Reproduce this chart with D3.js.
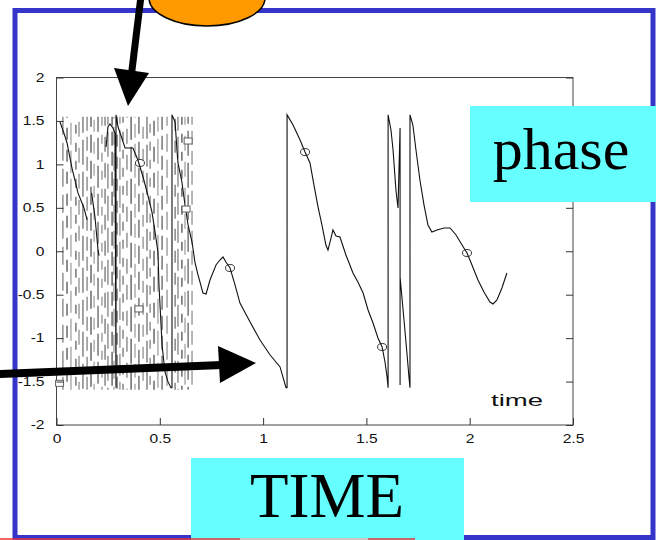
<!DOCTYPE html>
<html><head><meta charset="utf-8">
<script src="https://cdn.jsdelivr.net/npm/d3@7"></script>
<style>
html,body{margin:0;padding:0;background:#fff;}
svg{display:block;}
</style></head><body>
<svg id="chart" width="656" height="540"></svg>
<script>
// ---------- data ----------
const xTicks = [0, 0.5, 1, 1.5, 2, 2.5];
const yTicks = [-2, -1.5, -1, -0.5, 0, 0.5, 1, 1.5, 2];
const xLabel = "time";
const phaseLabel = "phase";
const timeLabel = "TIME";

// main wrapped phase curve [time, phase]; null = break in the trace
const phaseTime = [0.017,0.036,0.051,0.075,0.104,0.133,0.148,0.160,0.170,0.186,0.201,0.206,0.220,0.240,0.249,0.259,0.273,0.283,0.288,0.288,0.298,0.332,0.370,0.394,0.419,0.438,0.462,0.477,0.491,0.496,0.501,0.511,0.525,0.540,0.554,0.559,0.559,0.574,0.583,0.588,0.607,0.622,0.637,0.656,0.670,0.685,0.709,0.724,0.743,0.772,0.791,0.806,0.820,0.840,0.864,0.888,0.937,0.985,1.034,1.082,1.111,1.116,1.116,1.145,1.179,1.203,1.227,1.246,1.266,1.285,1.304,1.314,1.329,1.338,1.353,1.372,1.401,1.435,1.459,1.484,1.508,1.532,1.556,1.576,1.590,1.600,1.605,1.605,1.619,1.629,1.643,1.653,1.663,1.663,1.663,1.682,1.697,1.706,1.711,1.711,1.725,1.740,1.759,1.779,1.798,1.817,1.842,1.876,1.905,1.934,1.963,1.987,2.011,2.040,2.069,2.098,2.113,2.132,2.156,2.180];
const phaseValue = [1.488,1.36,1.246,0.958,0.671,0.498,0.360,null,0.671,0.40,0.014,-0.05,null,1.20,1.430,1.465,1.419,1.361,-1.57,1.57,1.430,1.188,1.188,1.050,0.855,0.682,0.452,0.222,-0.009,-0.388,-0.619,-1.079,-1.390,-1.504,-1.57,-1.57,1.57,1.488,1.165,1.016,0.797,0.532,0.302,0.106,-0.124,-0.273,-0.481,-0.492,-0.331,-0.158,-0.101,-0.066,-0.124,-0.193,-0.388,-0.596,-0.814,-1.022,-1.194,-1.332,-1.57,-1.57,1.57,1.453,1.281,1.142,1.016,0.763,0.509,0.302,0.072,0.014,0.153,0.245,0.175,0.164,-0.043,-0.250,-0.354,-0.481,-0.676,-0.826,-0.998,-1.102,-1.275,-1.447,-1.57,1.57,1.396,1.165,0.705,0.498,1.419,-1.539,-0.296,-0.791,-1.194,-1.447,-1.57,1.57,1.453,1.165,0.820,0.532,0.302,0.222,0.245,0.268,0.268,0.187,0.072,-0.020,-0.158,-0.331,-0.469,-0.584,-0.607,-0.561,-0.423,-0.250];

// fast wraps in the early, noisy part (dashed verticals)
const wrapTimes = [0.031,0.051,0.070,0.094,0.109,0.128,0.148,0.167,0.182,0.201,0.220,0.235,0.249,0.269,0.278,0.293,0.307,0.322,0.341,0.361,0.380,0.399,0.419,0.438,0.453,0.472,0.491,0.511,0.535,0.574,0.588,0.607,0.622,0.637,0.656];
const wrapLow = -1.57, wrapHigh = 1.57;

// markers
const circleTime = [0.404, 0.840, 1.203, 1.576, 1.987];
const circleValue = [1.016, -0.193, 1.142, -1.102, -0.020];
const squareTime = [0.637, 0.627, 0.399, 0.015];
const squareValue = [1.269, 0.486, -0.664, -1.52];

// ---------- drawing ----------
const svg = d3.select("#chart");
const W = 656, H = 540;
const x = d3.scaleLinear().domain([0, 2.5]).range([56.5, 573]);
const y = d3.scaleLinear().domain([-2, 2]).range([425, 77.5]);

svg.append("rect").attr("width", W).attr("height", H).attr("fill", "#fff");

// blue slide frame
svg.append("rect").attr("x", 15).attr("y", 10.5).attr("width", 638).attr("height", 527)
  .attr("fill", "none").attr("stroke", "#3535c9").attr("stroke-width", 5);

// plot frame
svg.append("rect").attr("x", x(0)).attr("y", y(2)).attr("width", x(2.5) - x(0)).attr("height", y(-2) - y(2))
  .attr("fill", "#fff").attr("stroke", "#444").attr("stroke-width", 1);

// dashed wrap lines
const dashPats = ["18,8", "12,10", "22,6", "9,9", "15,11", "25,7", "14,6"];
const dashCols = ["#777", "#444", "#999", "#555", "#888", "#666"];
svg.append("g").selectAll("line").data(wrapTimes).join("line")
  .attr("x1", d => x(d)).attr("x2", d => x(d))
  .attr("y1", y(wrapHigh) + 2).attr("y2", y(wrapLow) + 2)
  .attr("stroke", (d, i) => dashCols[i % dashCols.length])
  .attr("stroke-width", 1.2)
  .attr("stroke-dasharray", (d, i) => dashPats[i % dashPats.length])
  .attr("stroke-dashoffset", (d, i) => (i * 11) % 23);

// main curve
const pts = phaseTime.map((t, i) => [t, phaseValue[i]]);
svg.append("path").datum(pts)
  .attr("d", d3.line().defined(d => d[1] != null).x(d => x(d[0])).y(d => y(d[1])))
  .attr("fill", "none").attr("stroke", "#111").attr("stroke-width", 1.1);

// markers
svg.append("g").selectAll("rect").data(squareTime).join("rect")
  .attr("x", d => x(d) - 4).attr("y", (d, i) => y(squareValue[i]) - 3)
  .attr("width", 8).attr("height", 6).attr("fill", "#fff").attr("stroke", "#555").attr("stroke-width", 0.9);
svg.append("g").selectAll("ellipse").data(circleTime).join("ellipse")
  .attr("cx", d => x(d)).attr("cy", (d, i) => y(circleValue[i]))
  .attr("rx", 4.5).attr("ry", 3.5).attr("fill", "none").attr("stroke", "#222").attr("stroke-width", 0.9);

// axes
const fmt = d => String(d);
const sx = 1.3;
const gl = svg.append("g").attr("transform", `translate(${x(0)},0)`)
  .call(d3.axisLeft(y).tickValues(yTicks).tickSize(-7).tickPadding(12).tickFormat(fmt));
const gb = svg.append("g").attr("transform", `translate(0,${y(-2)})`)
  .call(d3.axisBottom(x).tickValues(xTicks).tickSize(-7).tickPadding(9).tickFormat(fmt));
const gr = svg.append("g").attr("transform", `translate(${x(2.5)},0)`)
  .call(d3.axisRight(y).tickValues(yTicks).tickSize(-7).tickFormat(""));
[gl, gb, gr].forEach(g => {
  g.select(".domain").remove();
  g.selectAll(".tick line").attr("stroke", "#333");
  g.selectAll("text").attr("font-family", "Liberation Sans, Arial, sans-serif").attr("font-size", 12).attr("fill", "#111");
});
gl.selectAll(".tick text").each(function () {
  const t = d3.select(this); const xx = +t.attr("x");
  t.attr("x", 0).attr("transform", `translate(${xx},0) scale(${sx},1)`);
});
gb.selectAll(".tick text").attr("transform", `scale(${sx},1)`);

svg.append("text").attr("x", 517).attr("y", 406).attr("text-anchor", "middle")
  .attr("font-family", "Liberation Sans, Arial, sans-serif").attr("font-size", 16)
  .attr("textLength", 52).attr("lengthAdjust", "spacingAndGlyphs").attr("fill", "#111").text(xLabel);

// cyan label boxes
svg.append("rect").attr("x", 470).attr("y", 106).attr("width", 186).attr("height", 96).attr("fill", "#66ffff");
svg.append("text").attr("x", 561).attr("y", 169).attr("text-anchor", "middle")
  .attr("font-family", "Liberation Serif, Times New Roman, serif").attr("font-size", 60).attr("fill", "#000").text(phaseLabel);
svg.append("rect").attr("x", 191).attr("y", 458).attr("width", 273).attr("height", 82).attr("fill", "#66ffff");
svg.append("text").attr("x", 327).attr("y", 517).attr("text-anchor", "middle")
  .attr("font-family", "Liberation Serif, Times New Roman, serif").attr("font-size", 63).attr("fill", "#000").text(timeLabel);

// thin red line at bottom edge
svg.append("line").attr("x1", 0).attr("x2", 240).attr("y1", 539).attr("y2", 539).attr("stroke", "#e33").attr("stroke-width", 1.5);
svg.append("line").attr("x1", 240).attr("x2", 368).attr("y1", 539).attr("y2", 539).attr("stroke", "#f7b0b0").attr("stroke-width", 1.5);
svg.append("line").attr("x1", 368).attr("x2", 415).attr("y1", 539).attr("y2", 539).attr("stroke", "#e33").attr("stroke-width", 1.5);

// orange bubble
svg.append("ellipse").attr("cx", 207).attr("cy", -2).attr("rx", 58).attr("ry", 28)
  .attr("fill", "#ff9900").attr("stroke", "#000").attr("stroke-width", 1.5);

// arrows
svg.append("line").attr("x1", 141).attr("y1", -4).attr("x2", 131.5).attr("y2", 74)
  .attr("stroke", "#000").attr("stroke-width", 7);
svg.append("polygon").attr("points", "114,68 149,73 128,106").attr("fill", "#000");
svg.append("line").attr("x1", -2).attr("y1", 374).attr("x2", 222).attr("y2", 365)
  .attr("stroke", "#000").attr("stroke-width", 8);
svg.append("polygon").attr("points", "218,346 220,383 256,363").attr("fill", "#000");
</script>
</body></html>
